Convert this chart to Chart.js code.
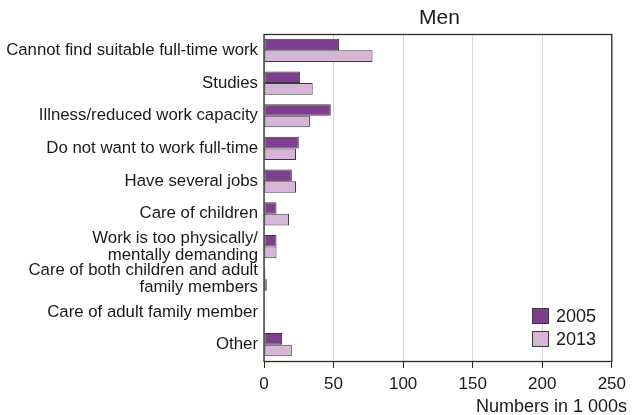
<!DOCTYPE html>
<html>
<head>
<meta charset="utf-8">
<script src="https://cdn.jsdelivr.net/npm/chart.js@4/dist/chart.umd.min.js"></script>
<style>
  body { margin: 0; background: #fff; }
  #wrap { position: relative; width: 632px; height: 415px; font-family: "Liberation Sans", Arial, sans-serif; color: #1a1a1a; }
  #title { position: absolute; left: 264px; width: 351px; top: 4px; text-align: center; font-size: 21px; line-height: 26px; }
  #xtitle { position: absolute; right: 5px; top: 395px; font-size: 18px; line-height: 22px; }
  .leg { position: absolute; left: 532px; font-size: 18px; line-height: 20px; }
  .leg span { display: inline-block; width: 15px; height: 14px; border: 1px solid #3a3a3a; vertical-align: top; margin: 2px 7px 0 0; }
</style>
</head>
<body>
<div id="wrap">
  <canvas id="chart" width="632" height="415"></canvas>
  <div id="title">Men</div>
  <div id="xtitle">Numbers in 1 000s</div>
  <div class="leg" style="top:306px"><span style="background:#7e3f8f"></span>2005</div>
  <div class="leg" style="top:329px"><span style="background:#d5b6d6"></span>2013</div>
</div>
<script>
// Categorías y valores (miles)
const categories = [
    "Cannot find suitable full-time work",
    "Studies",
    "Illness/reduced work capacity",
    "Do not want to work full-time",
    "Have several jobs",
    "Care of children",
    ["Work is too physically/", "mentally demanding"],
    ["Care of both children and adult", "family members"],
    "Care of adult family member",
    "Other"
];
const values2005 = [54, 26, 48, 25, 20, 9, 9, 1, 0, 13];
const values2013 = [78, 35, 33, 23, 23, 18, 9, 2, 0, 20];
const xTicks = [0, 50, 100, 150, 200, 250];

// Dibuja el marco del área del gráfico
const boxPlugin = {
    id: 'box',
    afterDatasetsDraw(chart) {
        const a = chart.chartArea;
        const ctx = chart.ctx;
        ctx.save();
        ctx.strokeStyle = '#2a2a2a';
        ctx.lineWidth = 1.3;
        ctx.strokeRect(a.left, a.top + 0.5, a.right - a.left, a.bottom - a.top);
        ctx.restore();
    }
};

const ctx = document.getElementById('chart').getContext('2d');
const chart = new Chart(ctx, {
    type: 'bar',
    data: {
        labels: categories,
        datasets: [
            {
                label: '2005',
                data: values2005,
                backgroundColor: '#7e3f8f',
                borderColor: '#3a3a3a',
                borderWidth: 1,
                borderSkipped: false
            },
            {
                label: '2013',
                data: values2013,
                backgroundColor: '#d5b6d6',
                borderColor: '#3a3a3a',
                borderWidth: 1,
                borderSkipped: false
            }
        ]
    },
    options: {
        indexAxis: 'y',
        responsive: false,
        animation: false,
        layout: { padding: { left: 0, right: 17, top: 34, bottom: 0 } },
        datasets: { bar: { categoryPercentage: 0.71, barPercentage: 1.0 } },
        plugins: {
            legend: { display: false },
            tooltip: { enabled: false }
        },
        scales: {
            x: {
                min: 0,
                max: 250,
                afterBuildTicks: function(scale) {
                    scale.ticks = xTicks.map(v => ({ value: v }));
                },
                afterFit: function(scale) { scale.height = 54; },
                border: { display: false },
                grid: { color: '#d6d6d6', lineWidth: 1, tickColor: '#2a2a2a', tickLength: 7 },
                ticks: {
                    padding: 6,
                    color: '#1a1a1a',
                    font: { family: '"Liberation Sans", Arial', size: 17 }
                }
            },
            y: {
                afterFit: function(scale) { scale.width = 264; },
                border: { display: false },
                grid: { display: false, drawTicks: false },
                ticks: {
                    padding: 6,
                    color: '#1a1a1a',
                    autoSkip: false,
                    font: { family: '"Liberation Sans", Arial', size: 16.8, lineHeight: 1.0 }
                }
            }
        }
    },
    plugins: [boxPlugin]
});
</script>
</body>
</html>
